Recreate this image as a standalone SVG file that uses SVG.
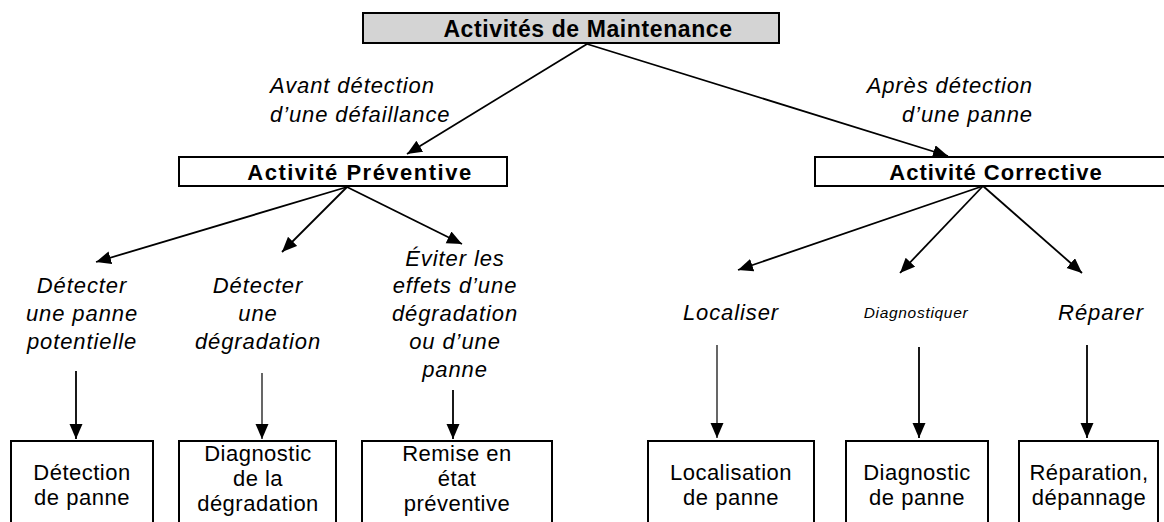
<svg xmlns="http://www.w3.org/2000/svg" width="1164" height="522" viewBox="0 0 1164 522">
<style>
.box{fill:#fff;stroke:#000;stroke-width:2}
.top{fill:#d4d4d4;stroke:#000;stroke-width:2}
.h{font-family:"Liberation Sans",Arial,sans-serif;font-weight:bold;font-size:22px;letter-spacing:1.2px;text-anchor:middle;fill:#000}
.it{font-family:"Liberation Sans",Arial,sans-serif;font-style:italic;font-size:22px;letter-spacing:0.9px;fill:#000}
.c{text-anchor:middle}
.r{text-anchor:end}
.t{font-family:"Liberation Sans",Arial,sans-serif;font-size:22px;letter-spacing:0.5px;text-anchor:middle;fill:#000}
.ln{stroke:#000;stroke-width:1.8;fill:none}
.thin{stroke:#000;stroke-width:1.2;fill:none}
</style>
<defs>
<marker id="ah" markerUnits="userSpaceOnUse" markerWidth="16" markerHeight="14" refX="15" refY="6.5" orient="auto">
<path d="M0,0 L15,6.5 L0,13 z" fill="#000"/>
</marker>
</defs>

<g id="connectors">
<line class="ln" x1="587" y1="44" x2="407" y2="154" marker-end="url(#ah)"/>
<line class="ln" x1="587" y1="44" x2="948" y2="156" marker-end="url(#ah)"/>
<line class="ln" x1="347" y1="187" x2="96" y2="262" marker-end="url(#ah)"/>
<line class="ln" x1="347" y1="187" x2="282" y2="252" marker-end="url(#ah)"/>
<line class="ln" x1="347" y1="187" x2="462" y2="244" marker-end="url(#ah)"/>
<line class="ln" x1="983" y1="186" x2="738" y2="270" marker-end="url(#ah)"/>
<line class="ln" x1="983" y1="186" x2="900" y2="273" marker-end="url(#ah)"/>
<line class="ln" x1="983" y1="186" x2="1082" y2="273" marker-end="url(#ah)"/>
<line class="ln" x1="76" y1="371" x2="76" y2="439" marker-end="url(#ah)"/>
<line class="thin" x1="262" y1="373" x2="262" y2="439" marker-end="url(#ah)"/>
<line class="ln" x1="453" y1="390" x2="453" y2="439" marker-end="url(#ah)"/>
<line class="thin" x1="717" y1="345" x2="717" y2="438" marker-end="url(#ah)"/>
<line class="ln" x1="919" y1="347" x2="919" y2="438" marker-end="url(#ah)"/>
<line class="ln" x1="1087" y1="345" x2="1087" y2="438" marker-end="url(#ah)"/>
</g>

<g id="maintenance">
<rect class="top" x="363" y="13" width="416" height="30"/>
<text class="h" x="588" y="37" style="font-size:23px;letter-spacing:0.6px">Activités de Maintenance</text>
</g>

<g id="label-avant">
<text class="it" x="270" y="93">Avant détection</text>
<text class="it" x="270" y="122">d’une défaillance</text>
</g>

<g id="label-apres">
<text class="it r" x="1033" y="93">Après détection</text>
<text class="it r" x="1033" y="122">d’une panne</text>
</g>

<g id="preventive">
<rect class="box" x="179" y="157" width="328" height="29"/>
<text class="h" x="360" y="180" style="letter-spacing:1.5px">Activité Préventive</text>
</g>

<g id="corrective">
<rect class="box" x="815" y="157" width="360" height="29"/>
<text class="h" x="996" y="180" style="letter-spacing:1px">Activité Corrective</text>
</g>

<g id="detecter-panne">
<text class="it c" x="82" y="293">Détecter</text>
<text class="it c" x="82" y="321">une panne</text>
<text class="it c" x="82" y="349">potentielle</text>
</g>

<g id="detecter-degradation">
<text class="it c" x="258" y="293">Détecter</text>
<text class="it c" x="258" y="321">une</text>
<text class="it c" x="258" y="349">dégradation</text>
</g>

<g id="eviter">
<text class="it c" x="455" y="266">Éviter les</text>
<text class="it c" x="455" y="293">effets d’une</text>
<text class="it c" x="455" y="321">dégradation</text>
<text class="it c" x="455" y="349">ou d’une</text>
<text class="it c" x="455" y="377">panne</text>
</g>

<g id="localiser">
<text class="it c" x="731" y="320">Localiser</text>
</g>

<g id="diagnostiquer">
<text class="it c" x="916" y="318" style="font-size:15.5px;letter-spacing:0.7px">Diagnostiquer</text>
</g>

<g id="reparer">
<text class="it c" x="1101" y="320">Réparer</text>
</g>

<g id="detection-panne">
<rect class="box" x="11" y="441" width="142" height="90"/>
<text class="t" x="82" y="480">Détection</text>
<text class="t" x="82" y="505">de panne</text>
</g>

<g id="diagnostic-degradation">
<rect class="box" x="179" y="441" width="157" height="90"/>
<text class="t" x="258" y="461">Diagnostic</text>
<text class="t" x="258" y="486">de la</text>
<text class="t" x="258" y="511">dégradation</text>
</g>

<g id="remise-etat">
<rect class="box" x="362" y="441" width="190" height="90"/>
<text class="t" x="457" y="461">Remise en</text>
<text class="t" x="457" y="486">état</text>
<text class="t" x="457" y="511">préventive</text>
</g>

<g id="localisation-panne">
<rect class="box" x="648" y="441" width="166" height="90"/>
<text class="t" x="731" y="480">Localisation</text>
<text class="t" x="731" y="505">de panne</text>
</g>

<g id="diagnostic-panne">
<rect class="box" x="846" y="441" width="142" height="90"/>
<text class="t" x="917" y="480">Diagnostic</text>
<text class="t" x="917" y="505">de panne</text>
</g>

<g id="reparation">
<rect class="box" x="1019" y="441" width="139" height="90"/>
<text class="t" x="1089" y="480">Réparation,</text>
<text class="t" x="1089" y="505">dépannage</text>
</g>
</svg>
